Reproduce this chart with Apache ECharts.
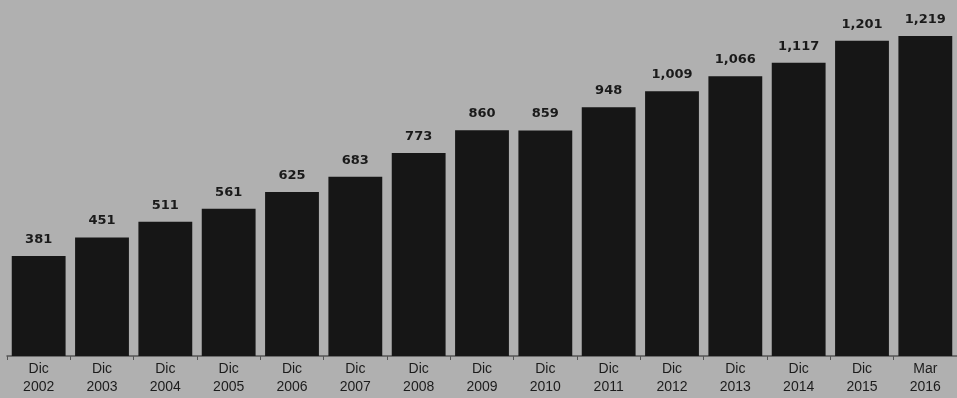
<!DOCTYPE html>
<html>
<head>
<meta charset="utf-8">
<script src="https://cdn.jsdelivr.net/npm/echarts@6/dist/echarts.min.js"></script>
<style>
html,body{margin:0;padding:0;background:#b0b0b0;}
#c{width:957px;height:398px;}
</style>
</head>
<body>
<div id="c"></div>
<script>
const months = ["Dic","Dic","Dic","Dic","Dic","Dic","Dic","Dic","Dic","Dic","Dic","Dic","Dic","Dic","Mar"];
const years = ["2002","2003","2004","2005","2006","2007","2008","2009","2010","2011","2012","2013","2014","2015","2016"];
const values = [381,451,511,561,625,683,773,860,859,948,1009,1066,1117,1201,1219];

const categories = months.map((m,i)=>m+"\n"+years[i]);
const chart = echarts.init(document.getElementById('c'));
chart.setOption({
  backgroundColor:'#b0b0b0',
  animation:false,
  grid:{left:7,width:955,top:20,bottom:42},
  xAxis:{
    type:'category',
    data:categories,
    axisLine:{lineStyle:{color:'#555',width:1.5}},
    axisTick:{show:true,length:4,lineStyle:{color:'#555'}},
    axisLabel:{color:'#1c1c1c',fontFamily:'Liberation Sans, Arial, sans-serif',fontSize:14,lineHeight:18,margin:4,interval:0}
  },
  yAxis:{type:'value',min:0,max:1280,show:false,splitLine:{show:false}},
  series:[{
    type:'bar',
    data:values,
    barCategoryGap:'15%',
    itemStyle:{color:'#161616'},
    label:{
      show:true,position:'top',distance:10,
      color:'#1a1a1a',fontWeight:'bold',fontSize:13,
      fontFamily:'DejaVu Sans, Verdana, sans-serif',
      formatter:p=>p.value.toLocaleString('en-US')
    }
  }]
});
</script>
</body>
</html>
